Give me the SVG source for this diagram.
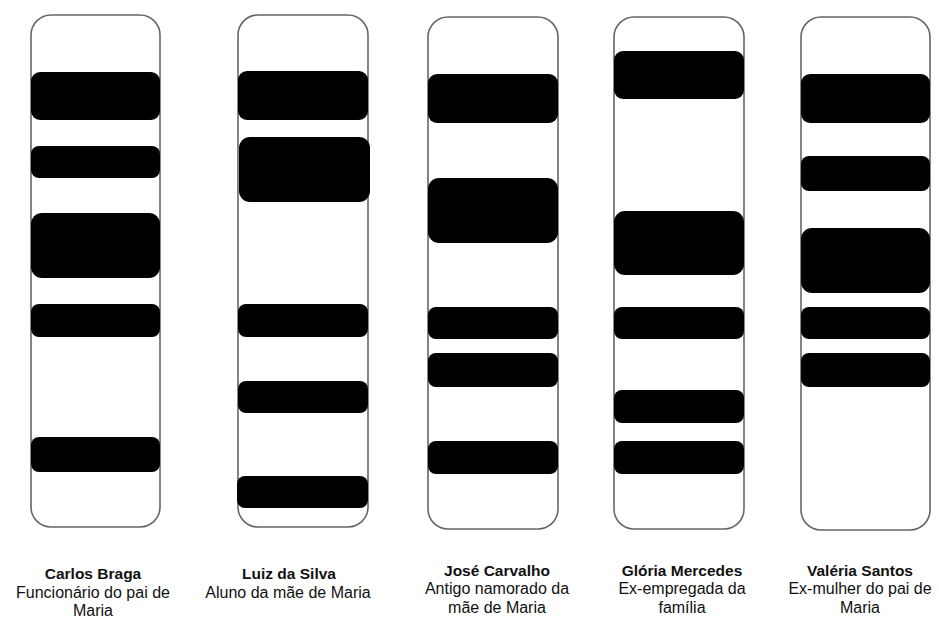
<svg xmlns="http://www.w3.org/2000/svg" width="939" height="622" viewBox="0 0 939 622">
<style>
.lane{fill:#fff;stroke:#666;stroke-width:1.6}
.band{fill:#000}
.name{font-family:"Liberation Sans",Arial,sans-serif;font-weight:bold;font-size:15.5px;fill:#111;text-anchor:middle}
.desc{font-family:"Liberation Sans",Arial,sans-serif;font-size:16px;fill:#111;text-anchor:middle}
</style>
<rect width="939" height="622" fill="#fff"/>
<g id="carlos">
<rect class="lane" x="31" y="15" width="129" height="512" rx="20"/>
<rect class="band" x="31" y="72" width="129" height="48" rx="9"/>
<rect class="band" x="31" y="146" width="129" height="32" rx="8"/>
<rect class="band" x="31" y="213" width="129" height="65" rx="11"/>
<rect class="band" x="31" y="304" width="129" height="33" rx="8"/>
<rect class="band" x="31" y="437" width="129" height="35" rx="8"/>
<text class="name" x="93" y="579">Carlos Braga</text>
<text class="desc" x="93" y="597.5">Funcionário do pai de</text>
<text class="desc" x="93" y="616">Maria</text>
</g>
<g id="luiz">
<rect class="lane" x="238" y="15" width="130" height="512" rx="20"/>
<rect class="band" x="238" y="71" width="130" height="49" rx="9"/>
<rect class="band" x="239" y="137" width="131" height="65" rx="11"/>
<rect class="band" x="238" y="304" width="130" height="33" rx="8"/>
<rect class="band" x="238" y="381" width="130" height="32" rx="8"/>
<rect class="band" x="237" y="476" width="131" height="32" rx="8"/>
<text class="name" x="289" y="579">Luiz da Silva</text>
<text class="desc" x="288" y="597.5">Aluno da mãe de Maria</text>
</g>
<g id="jose">
<rect class="lane" x="428" y="17" width="130" height="512" rx="20"/>
<rect class="band" x="428" y="74" width="130" height="49" rx="9"/>
<rect class="band" x="428" y="178" width="130" height="65" rx="11"/>
<rect class="band" x="428" y="307" width="130" height="32" rx="8"/>
<rect class="band" x="428" y="353" width="130" height="34" rx="8"/>
<rect class="band" x="428" y="441" width="130" height="33" rx="8"/>
<text class="name" x="497" y="575.5">José Carvalho</text>
<text class="desc" x="497" y="594">Antigo namorado da</text>
<text class="desc" x="497" y="612.5">mãe de Maria</text>
</g>
<g id="gloria">
<rect class="lane" x="614" y="17" width="130" height="512" rx="20"/>
<rect class="band" x="614" y="51" width="130" height="48" rx="9"/>
<rect class="band" x="614" y="211" width="130" height="64" rx="11"/>
<rect class="band" x="614" y="307" width="130" height="32" rx="8"/>
<rect class="band" x="614" y="390" width="130" height="33" rx="8"/>
<rect class="band" x="614" y="441" width="130" height="33" rx="8"/>
<text class="name" x="682" y="575.5">Glória Mercedes</text>
<text class="desc" x="682" y="594">Ex-empregada da</text>
<text class="desc" x="682" y="612.5">família</text>
</g>
<g id="valeria">
<rect class="lane" x="801" y="17" width="129" height="513" rx="20"/>
<rect class="band" x="801" y="74" width="129" height="49" rx="9"/>
<rect class="band" x="801" y="156" width="129" height="35" rx="8"/>
<rect class="band" x="801" y="228" width="129" height="65" rx="11"/>
<rect class="band" x="801" y="307" width="129" height="32" rx="8"/>
<rect class="band" x="801" y="353" width="129" height="34" rx="8"/>
<text class="name" x="860" y="575.5">Valéria Santos</text>
<text class="desc" x="860" y="594">Ex-mulher do pai de</text>
<text class="desc" x="860" y="612.5">Maria</text>
</g>
<g id="connectors"/>
</svg>
